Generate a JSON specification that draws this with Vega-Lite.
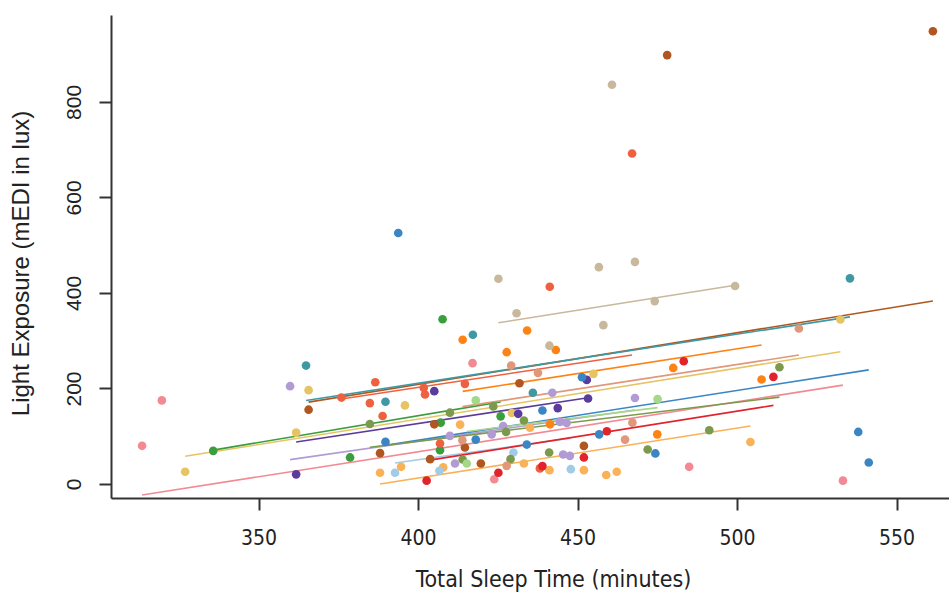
{
  "$schema": "https://vega.github.io/schema/vega-lite/v6.json",
  "autosize": "none",
  "width": 838,
  "height": 483,
  "padding": {"left": 111, "top": 15, "right": 0, "bottom": 95},
  "background": "white",
  "config": {"view": {"stroke": null}},
  "datasets": {
    "pts": [
      {"p":"P01","tst":313.5,"lux":80},{"p":"P01","tst":319.7,"lux":175},{"p":"P01","tst":417.1,"lux":253},{"p":"P01","tst":423.9,"lux":10},{"p":"P01","tst":485,"lux":36},{"p":"P01","tst":533.2,"lux":7},
      {"p":"P02","tst":327,"lux":25.6},{"p":"P02","tst":361.8,"lux":107.7},{"p":"P02","tst":365.7,"lux":196.5},{"p":"P02","tst":395.9,"lux":164.6},{"p":"P02","tst":429.4,"lux":148.6},{"p":"P02","tst":455,"lux":230.6},{"p":"P02","tst":532.4,"lux":344.4},
      {"p":"P03","tst":335.8,"lux":69.4},{"p":"P03","tst":378.7,"lux":55.6},{"p":"P03","tst":407.7,"lux":345},{"p":"P03","tst":425.9,"lux":141.7},{"p":"P03","tst":406.9,"lux":70.8},{"p":"P03","tst":407.1,"lux":128.5},
      {"p":"P04","tst":361.8,"lux":20.2},{"p":"P04","tst":405.1,"lux":194.4},{"p":"P04","tst":431.4,"lux":147},{"p":"P04","tst":443.8,"lux":159},{"p":"P04","tst":452.9,"lux":218},{"p":"P04","tst":453.3,"lux":179},
      {"p":"P05","tst":359.9,"lux":204.8},{"p":"P05","tst":410,"lux":100.7},{"p":"P05","tst":411.6,"lux":43},{"p":"P05","tst":423.1,"lux":104},{"p":"P05","tst":426.7,"lux":121.5},{"p":"P05","tst":442.1,"lux":191},{"p":"P05","tst":444.5,"lux":130},{"p":"P05","tst":446.6,"lux":128},{"p":"P05","tst":445.5,"lux":61.8},{"p":"P05","tst":447.6,"lux":59},{"p":"P05","tst":468,"lux":180},
      {"p":"P06","tst":365.7,"lux":155.6},{"p":"P06","tst":388.1,"lux":64.6},{"p":"P06","tst":403.8,"lux":52},{"p":"P06","tst":405.1,"lux":125},{"p":"P06","tst":414.7,"lux":76.4},{"p":"P06","tst":419.7,"lux":43},{"p":"P06","tst":431.8,"lux":211},{"p":"P06","tst":452,"lux":79.8},{"p":"P06","tst":478.1,"lux":898},{"p":"P06","tst":561.4,"lux":948},
      {"p":"P07","tst":364.9,"lux":248},{"p":"P07","tst":389.8,"lux":172.2},{"p":"P07","tst":417.2,"lux":312.5},{"p":"P07","tst":436,"lux":191},{"p":"P07","tst":535.4,"lux":430.6},
      {"p":"P08","tst":376,"lux":181},{"p":"P08","tst":384.9,"lux":169.4},{"p":"P08","tst":386.6,"lux":213},{"p":"P08","tst":388.9,"lux":142.3},{"p":"P08","tst":401.8,"lux":201.4},{"p":"P08","tst":402.2,"lux":187.5},{"p":"P08","tst":406.9,"lux":84.8},{"p":"P08","tst":414.7,"lux":209.7},{"p":"P08","tst":438.2,"lux":32.6},{"p":"P08","tst":441.3,"lux":413},{"p":"P08","tst":467.1,"lux":692},
      {"p":"P09","tst":414,"lux":302},{"p":"P09","tst":427.8,"lux":276},{"p":"P09","tst":434.2,"lux":321.5},{"p":"P09","tst":441.4,"lux":125},{"p":"P09","tst":443.2,"lux":280.6},{"p":"P09","tst":475,"lux":104},{"p":"P09","tst":480,"lux":243},{"p":"P09","tst":507.7,"lux":218.8},
      {"p":"P10","tst":425.2,"lux":429.8},{"p":"P10","tst":430.9,"lux":357.6},{"p":"P10","tst":441.2,"lux":289.6},{"p":"P10","tst":456.7,"lux":454},{"p":"P10","tst":458.1,"lux":332.6},{"p":"P10","tst":460.8,"lux":836},{"p":"P10","tst":468,"lux":465},{"p":"P10","tst":474.2,"lux":383},{"p":"P10","tst":499.4,"lux":414.6},
      {"p":"P11","tst":389.8,"lux":88.2},{"p":"P11","tst":393.8,"lux":525.6},{"p":"P11","tst":418.1,"lux":93},{"p":"P11","tst":434.1,"lux":82.6},{"p":"P11","tst":439,"lux":154},{"p":"P11","tst":451.4,"lux":223.6},{"p":"P11","tst":456.8,"lux":104},{"p":"P11","tst":474.4,"lux":64},{"p":"P11","tst":538,"lux":109},{"p":"P11","tst":541.3,"lux":45},
      {"p":"P12","tst":388.1,"lux":23.6},{"p":"P12","tst":394.7,"lux":36},{"p":"P12","tst":407.9,"lux":34.8},{"p":"P12","tst":413.2,"lux":124.4},{"p":"P12","tst":433.2,"lux":43},{"p":"P12","tst":435.1,"lux":118},{"p":"P12","tst":441.2,"lux":29},{"p":"P12","tst":452,"lux":29},{"p":"P12","tst":459,"lux":18.8},{"p":"P12","tst":462.3,"lux":25.6},{"p":"P12","tst":504.2,"lux":88},
      {"p":"P13","tst":392.8,"lux":23.6},{"p":"P13","tst":406.7,"lux":27.7},{"p":"P13","tst":429.9,"lux":66},{"p":"P13","tst":447.9,"lux":31},
      {"p":"P14","tst":402.7,"lux":7},{"p":"P14","tst":425.2,"lux":23.6},{"p":"P14","tst":439,"lux":37.5},{"p":"P14","tst":452,"lux":55.6},{"p":"P14","tst":459.2,"lux":110.4},{"p":"P14","tst":483.3,"lux":257},{"p":"P14","tst":511.4,"lux":224.4},
      {"p":"P15","tst":384.9,"lux":125.6},{"p":"P15","tst":410,"lux":149.3},{"p":"P15","tst":414,"lux":51.4},{"p":"P15","tst":423.6,"lux":162.5},{"p":"P15","tst":427.6,"lux":109},{"p":"P15","tst":429,"lux":52},{"p":"P15","tst":433.2,"lux":133},{"p":"P15","tst":441.1,"lux":66},{"p":"P15","tst":472,"lux":72.2},{"p":"P15","tst":491.3,"lux":112.5},{"p":"P15","tst":513.3,"lux":244.4},
      {"p":"P16","tst":415.3,"lux":43},{"p":"P16","tst":418.1,"lux":175},{"p":"P16","tst":475.1,"lux":177.8},
      {"p":"P17","tst":413.9,"lux":91.7},{"p":"P17","tst":427.8,"lux":38},{"p":"P17","tst":429.2,"lux":248},{"p":"P17","tst":437.6,"lux":232.7},{"p":"P17","tst":464.9,"lux":93},{"p":"P17","tst":467.2,"lux":128.5},{"p":"P17","tst":519.4,"lux":325.6}
    ],
    "fits": [
      {"p":"P01","tst":313.5,"lux":-23,"tst2":533.2,"lux2":207},
      {"p":"P02","tst":327,"lux":58,"tst2":532.4,"lux2":277},
      {"p":"P03","tst":335.8,"lux":71,"tst2":425.9,"lux2":172},
      {"p":"P04","tst":361.8,"lux":88,"tst2":453.3,"lux2":180.6},
      {"p":"P05","tst":359.9,"lux":51,"tst2":468,"lux2":155},
      {"p":"P06","tst":365.7,"lux":171.5,"tst2":561.4,"lux2":383},
      {"p":"P07","tst":364.9,"lux":175,"tst2":535.4,"lux2":350},
      {"p":"P08","tst":376,"lux":178,"tst2":467.1,"lux2":270},
      {"p":"P09","tst":414,"lux":194,"tst2":507.7,"lux2":291},
      {"p":"P10","tst":425.2,"lux":337.5,"tst2":499.4,"lux2":416},
      {"p":"P11","tst":389.8,"lux":81,"tst2":541.3,"lux2":239},
      {"p":"P12","tst":388.1,"lux":0,"tst2":504.2,"lux2":121.5},
      {"p":"P13","tst":392.8,"lux":44,"tst2":447.9,"lux2":96},
      {"p":"P14","tst":402.7,"lux":49,"tst2":511.4,"lux2":164.6},
      {"p":"P15","tst":384.9,"lux":77,"tst2":513.3,"lux2":182},
      {"p":"P16","tst":415.3,"lux":110,"tst2":475.1,"lux2":160},
      {"p":"P17","tst":413.9,"lux":162,"tst2":519.4,"lux2":270}
    ]
  },
  "encoding": {
    "x": {"field": "tst", "type": "quantitative", "title": "Total Sleep Time (minutes)",
      "scale": {"domain": [303.76, 566.45], "nice": false, "zero": false},
      "axis": {"values": [350, 400, 450, 500, 550], "grid": false, "domainColor": "#333333", "domainWidth": 2, "tickColor": "#333333", "tickWidth": 2, "tickSize": 12,
        "labelFont": "DejaVu Sans Condensed, Liberation Sans", "labelFontSize": 21, "labelColor": "#222222", "labelPadding": 17,
        "titleFont": "DejaVu Sans Condensed, Liberation Sans", "titleFontSize": 23, "titleFontWeight": "normal", "titleColor": "#222222",
        "titleX": 442, "titleY": 70, "titleBaseline": "top", "titleAlign": "center"}},
    "y": {"field": "lux", "type": "quantitative", "title": "Light Exposure (mEDI in lux)",
      "scale": {"domain": [-29.3, 982], "nice": false, "zero": false},
      "axis": {"values": [0, 200, 400, 600, 800], "grid": false, "domainColor": "#333333", "domainWidth": 2, "tickColor": "#333333", "tickWidth": 2, "tickSize": 12,
        "labelFont": "Liberation Sans", "labelFontSize": 21, "labelColor": "#222222", "labelAngle": -90, "labelAlign": "center", "labelBaseline": "bottom", "labelPadding": 15,
        "titleFont": "Liberation Sans", "titleFontSize": 24, "titleFontWeight": "normal", "titleColor": "#222222",
        "titleX": -78, "titleY": 248, "titleAngle": -90, "titleBaseline": "bottom", "titleAlign": "center"}},
    "color": {"field": "p", "type": "nominal", "legend": null,
      "scale": {"domain": ["P01","P02","P03","P04","P05","P06","P07","P08","P09","P10","P11","P12","P13","P14","P15","P16","P17"],
        "range": ["#f38a93","#e6c464","#3b9e3e","#5b3c9c","#b29bd4","#b0561e","#3f99a4","#ee6140","#ff8214","#c8b89c","#3a86c4","#f9b257","#a2cbe6","#e1232b","#7c9a4c","#a6d88a","#e0977a"]}}
  },
  "layer": [
    {"data": {"name": "fits"}, "mark": {"type": "rule", "strokeWidth": 1.6},
      "encoding": {"x2": {"field": "tst2"}, "y2": {"field": "lux2"}}},
    {"data": {"name": "pts"}, "mark": {"type": "circle", "size": 75, "opacity": 1}}
  ]
}
